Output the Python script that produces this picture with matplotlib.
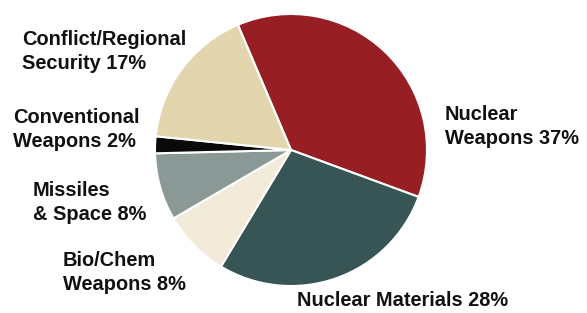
import matplotlib.pyplot as plt

labels = ['Nuclear\nWeapons 37%', 'Nuclear Materials 28%', 'Bio/Chem\nWeapons 8%',
          'Missiles\n& Space 8%', 'Conventional\nWeapons 2%', 'Conflict/Regional\nSecurity 17%']
shares = [37, 28, 8, 8, 2, 17]
colors = ['#971F24', '#385555', '#F2EBD9', '#8A9896', '#0A0A0A', '#E3D5AE']

# label anchor (left, top) in pixels from the top-left corner
label_pos = [(445, 105), (297, 291), (63, 251), (33, 181), (13, 108), (22, 30)]

W, H = 587, 313
fig = plt.figure(figsize=(W / 100, H / 100), dpi=100)

cx, cy, r = 291, 150, 136
ax = fig.add_axes([(cx - r) / W, (H - cy - r) / H, 2 * r / W, 2 * r / H])
ax.pie(shares, colors=colors, startangle=113, counterclock=False, radius=1,
       wedgeprops=dict(edgecolor='white', linewidth=1.5))
ax.set_xlim(-1, 1)
ax.set_ylim(-1, 1)
ax.set_aspect('auto')
ax.axis('off')

for lab, (x, y) in zip(labels, label_pos):
    fig.text(x / W, 1 - y / H, lab, ha='left', va='top', fontsize=14.4,
             fontweight='bold', family='Liberation Sans', color='#111111',
             linespacing=1.35)

fig.savefig('out.png', dpi=100)
